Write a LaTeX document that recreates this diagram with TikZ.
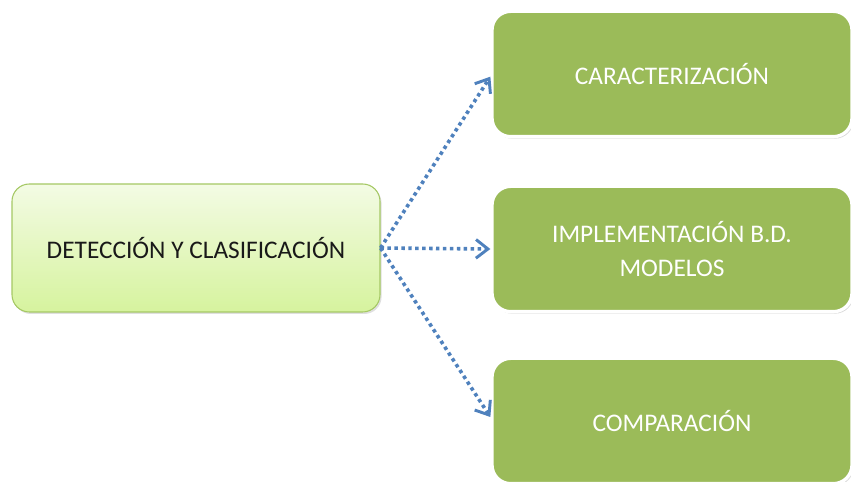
\documentclass[tikz,border=0pt]{standalone}
\usepackage{fontspec}
\setmainfont{Carlito}
\usepackage{tikz}
\usetikzlibrary{
  arrows.meta,
  positioning,
  shadows
}
\definecolor{leafgreen}{RGB}{155,187,89}
\definecolor{palegreen}{RGB}{243,251,228}
\definecolor{limegreen}{RGB}{214,243,158}
\definecolor{edgegreen}{RGB}{165,200,100}
\definecolor{linkblue}{RGB}{79,129,189}
\definecolor{inkgray}{RGB}{25,25,25}

\begin{document}
\begin{tikzpicture}[x=0.75pt, y=0.75pt,
    every node/.style={font=\fontsize{19}{25}\selectfont},
    mainbox/.style={draw=edgegreen, line width=0.8pt, rounded corners=13pt,
      top color=palegreen, bottom color=limegreen, text=inkgray,
      minimum width=276pt, minimum height=96pt,
      drop shadow={opacity=0.25, shadow xshift=1.2pt, shadow yshift=-1.5pt}},
    stagebox/.style={draw=white, line width=2.5pt, rounded corners=14pt,
      fill=leafgreen, text=white, align=center,
      minimum width=270pt, minimum height=94pt,
      drop shadow={opacity=0.3, shadow xshift=1.2pt, shadow yshift=-1.5pt}},
    flowarrow/.style={draw=linkblue, line width=2.7pt,
      dash pattern=on 2.6pt off 2.6pt,
      -{Straight Barb[length=9pt, width=14pt, line width=2.2pt]}}]
  \useasboundingbox (0,0) rectangle (851,482);

  \node[mainbox] (deteccion) at (196,234) {DETECCIÓN Y CLASIFICACIÓN};

  \node[stagebox] (caracterizacion) at (672,408) {CARACTERIZACIÓN};
  \node[stagebox] (implementacion) at (672,233) {IMPLEMENTACIÓN B.D.\\MODELOS};
  \node[stagebox] (comparacion) at (672,61) {COMPARACIÓN};

  \draw[flowarrow] (deteccion.east) -- ([yshift=-2pt]caracterizacion.west);
  \draw[flowarrow] (deteccion.east) -- (implementacion.west);
  \draw[flowarrow] (deteccion.east) -- ([yshift=3pt]comparacion.west);
\end{tikzpicture}
\end{document}
